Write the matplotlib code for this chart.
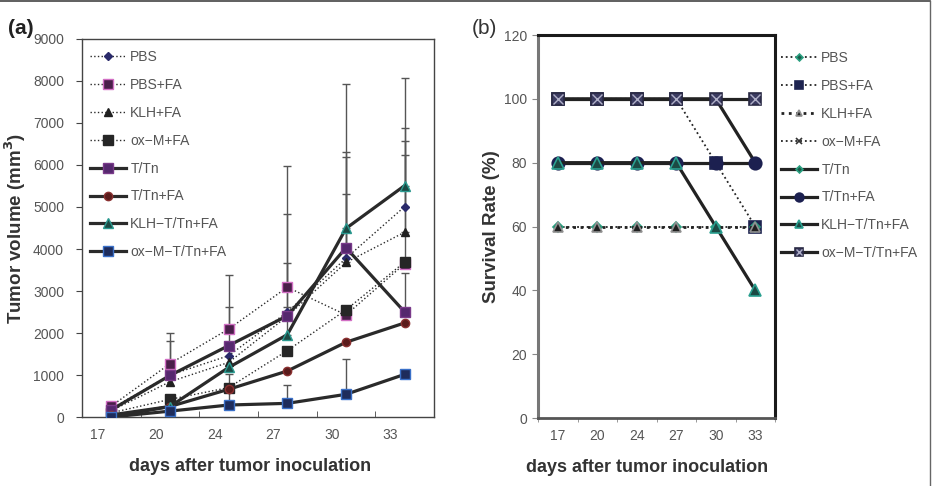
import matplotlib
matplotlib.use("Agg")
import matplotlib.pyplot as plt
from matplotlib.lines import Line2D
from matplotlib.legend_handler import HandlerTuple
import numpy as np

plt.rcParams['font.family'] = ['Liberation Sans', 'DejaVu Sans']

days = ["17", "20", "24", "27", "30", "33"]
groups = ["PBS", "PBS+FA", "KLH+FA", "ox\u2212M+FA", "T/Tn", "T/Tn+FA",
          "KLH\u2212T/Tn+FA", "ox\u2212M\u2212T/Tn+FA"]

# (a) tumor volume (mm3)
vol_pbs = [200, 1000, 1460, 2500, 3780, 5010]
vol_pbs_fa = [260, 1270, 2095, 3090, 2430, 3650]
vol_klh_fa = [150, 840, 1300, 2400, 3680, 4400]
vol_oxm_fa = [100, 420, 700, 1580, 2550, 3690]
vol_ttn = [170, 990, 1700, 2410, 4030, 2500]
vol_ttn_fa = [50, 250, 660, 1095, 1780, 2240]
vol_klh_ttn_fa = [0, 250, 1180, 1960, 4490, 5510]
vol_oxm_ttn_fa = [0, 140, 285, 325, 540, 1015]

# upper error bars (only drawn where visible)
err_pbs = [0, 820, 0, 1160, 2420, 1870]
err_pbs_fa = [0, 740, 1285, 2890, 0, 0]
err_klh_fa = [0, 0, 0, 0, 1630, 2170]
err_oxm_fa = [0, 0, 0, 0, 0, 2550]
err_ttn = [0, 0, 920, 2430, 3910, 920]
err_ttn_fa = [0, 0, 0, 0, 0, 0]
err_klh_ttn_fa = [0, 0, 0, 650, 1820, 2550]
err_oxm_ttn_fa = [0, 0, 735, 435, 830, 0]

# (b) survival rate (%)
surv_pbs = [60, 60, 60, 60, 60, 60]
surv_pbs_fa = [100, 100, 100, 100, 80, 60]
surv_klh_fa = [60, 60, 60, 60, 60, 60]
surv_oxm_fa = [100, 100, 100, 100, 100, 100]
surv_ttn = [100, 100, 100, 100, 100, 80]
surv_ttn_fa = [80, 80, 80, 80, 80, 80]
surv_klh_ttn_fa = [80, 80, 80, 80, 60, 40]
surv_oxm_ttn_fa = [100, 100, 100, 100, 100, 100]

vols = [vol_pbs, vol_pbs_fa, vol_klh_fa, vol_oxm_fa, vol_ttn, vol_ttn_fa,
        vol_klh_ttn_fa, vol_oxm_ttn_fa]
errs = [err_pbs, err_pbs_fa, err_klh_fa, err_oxm_fa, err_ttn, err_ttn_fa,
        err_klh_ttn_fa, err_oxm_ttn_fa]
survs = [surv_pbs, surv_pbs_fa, surv_klh_fa, surv_oxm_fa, surv_ttn, surv_ttn_fa,
         surv_klh_ttn_fa, surv_oxm_ttn_fa]

# styles: (linestyle, lw, marker, size, face, edge, zorder)
sty_a = [
    (":", 1.0, "D", 4.5, "#2a2a6a", "#2a2a6a", 3),
    (":", 1.0, "s", 6.5, "#4a1f4a", "#d26fc4", 3),
    (":", 1.0, "^", 6.0, "#202020", "#202020", 3),
    (":", 1.0, "s", 6.5, "#262626", "#262626", 3),
    ("-", 2.3, "s", 6.5, "#55286e", "#7a3a8a", 3),
    ("-", 2.3, "o", 6.0, "#5a1c1c", "#8a3030", 3),
    ("-", 2.3, "^", 6.5, "#1c4a44", "#2a9a90", 3),
    ("-", 2.3, "s", 6.5, "#1e2c5c", "#3a70c8", 3),
]
sty_b = [
    (":", 1.3, "D", 5.0, "#1a5a4a", "#2aa080", 3),
    (":", 1.3, "s", 8.0, "#1e2450", "#1e2450", 2.5),
    (":", 2.0, "^", 7.0, "#202020", "#909090", 3),
    (":", 1.3, "x", 7.0, "#333333", "#333333", 3),
    ("-", 2.3, "D", 5.0, "#1a5a4a", "#2aa080", 3),
    ("-", 2.3, "o", 9.0, "#1c2050", "#1c2050", 3),
    ("-", 2.3, "^", 8.0, "#1c4a44", "#2aa090", 3),
    ("-", 2.3, "s", 9.0, "#3a3a60", "#2a2a44", 3),
]

tick_col = "#555555"
lab_col = "#333333"

fig = plt.figure(figsize=(9.35, 4.86), dpi=100)
x = np.arange(len(days))

# ---------- panel (a)
ax1 = fig.add_axes([82/935, 1-417/486, 352/935, 378/486])
for v, e, s, g in zip(vols, errs, sty_a, groups):
    ls, lw, mk, ms, fc, ec, z = s
    ax1.plot(x, v, linestyle=ls, lw=lw, color="#2a2a2a", marker=mk, ms=ms,
             mfc=fc, mec=ec, mew=1.0, label=g, zorder=z)
    e = np.array(e)
    idx = e > 0
    if idx.any():
        ax1.errorbar(x[idx], np.array(v)[idx], yerr=[np.zeros(idx.sum()), e[idx]],
                     fmt="none", ecolor="#555555", elinewidth=1.0, capsize=3,
                     capthick=1.0, zorder=2)

ax1.set_xlim(-0.5, 5.5)
ax1.set_ylim(0, 9000)
ax1.set_yticks(np.arange(0, 9001, 1000))
ax1.set_xticks(x - 0.24)
ax1.set_xticklabels(days)
ax1.set_xticks(np.arange(0.5, 5.0, 1), minor=True)
ax1.tick_params(axis="x", which="major", length=0, pad=8, labelsize=10, labelcolor=tick_col)
ax1.tick_params(axis="x", which="minor", direction="in", length=4, color="#444444")
ax1.tick_params(axis="y", direction="out", length=4, color="#444444",
                labelsize=10, labelcolor=tick_col, pad=9)
for sp in ax1.spines.values():
    sp.set_color("#444444")
    sp.set_linewidth(1.0)
ax1.set_ylabel("Tumor volume (mm$^\\mathbf{3}$)", fontsize=13.5, fontweight="bold", color=lab_col)
ax1.yaxis.set_label_coords(-0.153, 0.5)
ax1.set_xlabel("days after tumor inoculation", fontsize=13, fontweight="bold", color=lab_col)
ax1.xaxis.set_label_coords(0.477, -0.108)
leg1 = ax1.legend(loc="upper left", bbox_to_anchor=(90/935, 1-50/486),
                  bbox_transform=fig.transFigure, frameon=False, fontsize=10,
                  labelspacing=1.0, handlelength=2.6, handletextpad=0.3,
                  borderpad=0, borderaxespad=0)
for t in leg1.get_texts():
    t.set_color(tick_col)

# ---------- panel (b)
ax2 = fig.add_axes([538/935, 1-418/486, 237/935, 383/486])
handles = []
for v, s, g in zip(survs, sty_b, groups):
    ls, lw, mk, ms, fc, ec, z = s
    h, = ax2.plot(x, v, linestyle=ls, lw=lw, color="#222222", marker=mk, ms=ms,
                  mfc=fc, mec=ec, mew=1.2, zorder=z)
    handles.append(h)
# the x drawn inside the ox-M-T/Tn+FA squares
hx, = ax2.plot(x, surv_oxm_ttn_fa, linestyle="none", marker="x", ms=6.5,
               mec="#b0b0c8", mew=1.0, zorder=3.1)
handles[-1] = (handles[-1], hx)

ax2.set_xlim(-0.5, 5.5)
ax2.set_ylim(0, 120)
ax2.set_yticks(np.arange(0, 121, 20))
ax2.set_xticks(x)
ax2.set_xticklabels(days)
ax2.set_xticks(np.arange(-0.5, 6.0, 1), minor=True)
ax2.tick_params(axis="x", which="major", length=0, pad=8, labelsize=10, labelcolor=tick_col)
ax2.tick_params(axis="x", which="minor", direction="out", length=3, color="#888888")
ax2.tick_params(axis="y", direction="out", length=4, color="#888888",
                labelsize=10, labelcolor=tick_col, pad=4)
ax2.spines["left"].set_color("#777777")
ax2.spines["left"].set_linewidth(2.2)
ax2.spines["bottom"].set_color("#555555")
ax2.spines["bottom"].set_linewidth(2.0)
ax2.spines["top"].set_color("#1a1a1a")
ax2.spines["top"].set_linewidth(2.2)
ax2.spines["right"].set_color("#1a1a1a")
ax2.spines["right"].set_linewidth(2.2)
ax2.set_ylabel("Survival Rate (%)", fontsize=13.5, fontweight="bold", color=lab_col)
ax2.yaxis.set_label_coords(-0.16, 0.5)
ax2.set_xlabel("days after tumor inoculation", fontsize=13, fontweight="bold", color=lab_col)
ax2.xaxis.set_label_coords(0.46, -0.108)
leg2 = ax2.legend(handles, groups, loc="upper left", bbox_to_anchor=(781/935, 1-51/486),
                  bbox_transform=fig.transFigure, frameon=False, fontsize=10,
                  labelspacing=1.0, handlelength=2.6, handletextpad=0.3,
                  borderpad=0, borderaxespad=0, markerscale=0.7,
                  handler_map={tuple: HandlerTuple(ndivide=1)})
for t in leg2.get_texts():
    t.set_color(tick_col)

# panel letters
fig.text(8/935, 1-28/486, "(a)", fontsize=15, fontweight="bold", color="#222222", va="center")
fig.text(472/935, 1-28/486, "(b)", fontsize=15, color="#333333", va="center")

# outer frame lines (top and right)
fig.add_artist(Line2D([0, 930/935], [1-1/486, 1-1/486], transform=fig.transFigure,
                      color="#444444", lw=1.2))
fig.add_artist(Line2D([930/935, 930/935], [0, 1-1/486], transform=fig.transFigure,
                      color="#666666", lw=1.0))

fig.savefig("out.png", dpi=100)
